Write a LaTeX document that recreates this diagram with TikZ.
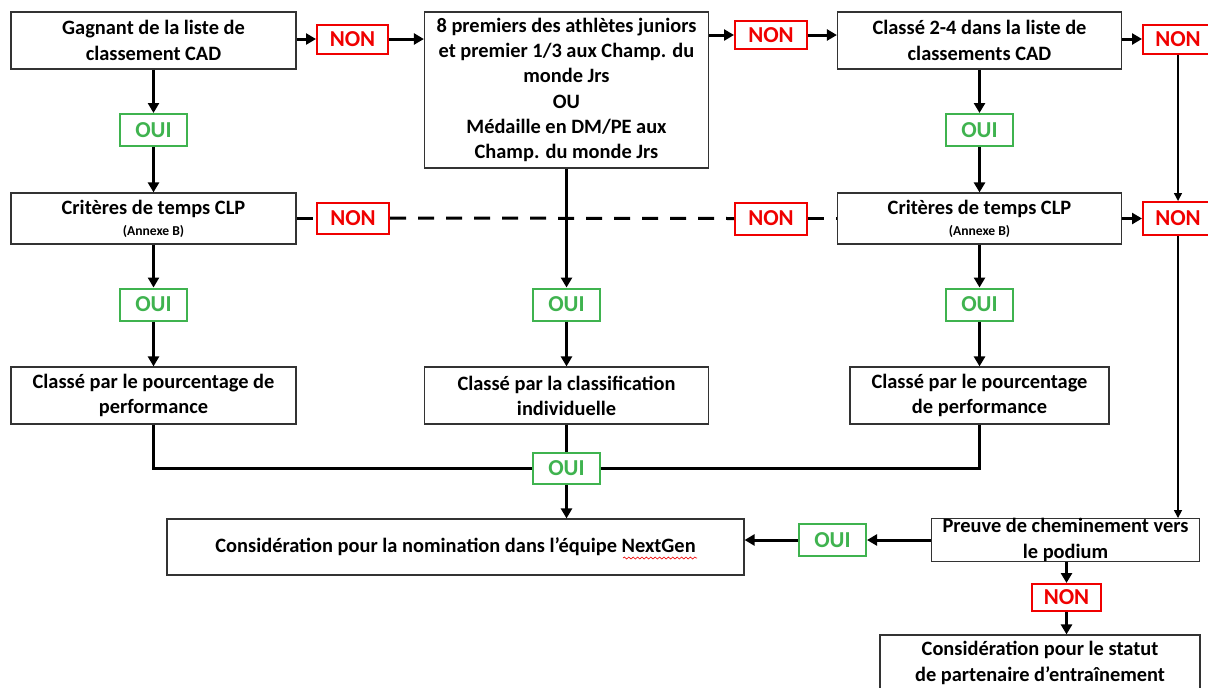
\documentclass[tikz,border=0pt]{standalone}
\usepackage{fontspec}
\setmainfont{Carlito}
\usetikzlibrary{arrows.meta,decorations.pathmorphing}
\definecolor{nonred}{HTML}{F00000}
\definecolor{ouigreen}{HTML}{3FB34F}
\newcommand{\mainfnt}{\fontsize{10.2}{12.6}\selectfont\bfseries}
\newcommand{\labfnt}{\fontsize{11.4}{12.6}\selectfont\bfseries}
\newcommand{\smallfnt}{\fontsize{6.8}{7.5}\selectfont\bfseries}
\tikzset{
  sz/.style 2 args={minimum width=#1*0.5pt, minimum height=#2*0.5pt},
  box/.style={draw=black!80, line width=0.6pt, fill=white, align=center, inner sep=0pt, font=\mainfnt},
  txt/.style={align=center, inner sep=0pt, font=\mainfnt},
  nonbox/.style={draw=nonred, line width=1pt, text=nonred, font=\labfnt, inner sep=0pt, fill=white},
  ouibox/.style={draw=ouigreen, line width=1pt, text=ouigreen, font=\labfnt, inner sep=0pt, fill=white},
  conn/.style={line width=1.5pt},
  arr/.style={line width=1.5pt, -{Triangle[length=5pt,width=5.5pt]}},
  thinarr/.style={line width=0.75pt, -{Triangle[length=4pt,width=4pt]}},
  dashconn/.style={line width=1.5pt, dash pattern=on 8pt off 6pt},
}
\begin{document}
\begin{tikzpicture}[x=0.5pt,y=-0.5pt]
\useasboundingbox (0,0) rectangle (1208,687);
% top row
\node[box, sz={285}{57}] (A) at (153.5,40.5) {Gagnant de la liste de\\classement CAD};
\node[nonbox, sz={71}{29}] (non1) at (352.5,39) {NON};
\node[box, sz={284}{156}] (B) at (566.5,90) {8 premiers des athlètes juniors\\et premier 1/3 aux Champ. du\\monde Jrs\\OU\\Médaille en DM/PE aux\\Champ. du monde Jrs};
\node[nonbox, sz={72}{28}] (non2) at (771,35) {NON};
\node[box, sz={284}{57}] (C) at (979.5,40.5) {Classé 2-4 dans la liste de\\classements CAD};
\node[nonbox, sz={70}{29}] (non3) at (1178,39) {NON};
% OUI row 1
\node[ouibox, sz={67}{32}] (oui1) at (153.5,130) {OUI};
\node[ouibox, sz={67}{32}] (oui2) at (979.5,130) {OUI};
% criteria row
\node[box, sz={285}{51}] (critL) at (153.5,218.5) {};
\node[txt] (critLt) at (153.5,209) {Critères de temps CLP};
\node[txt, font=\smallfnt] (critLa) at (153.5,231) {(Annexe B)};
\node[nonbox, sz={72}{31}] (non4) at (353,218) {NON};
\node[nonbox, sz={72}{32}] (non5) at (771,218.5) {NON};
\node[box, sz={284}{51}] (critR) at (979.5,218.5) {};
\node[txt] (critRt) at (979.5,209) {Critères de temps CLP};
\node[txt, font=\smallfnt] (critRa) at (979.5,231) {(Annexe B)};
\node[nonbox, sz={70}{33}] (non6) at (1178,218.5) {NON};
% OUI row 2
\node[ouibox, sz={67}{32}] (oui3) at (153.5,304.5) {OUI};
\node[ouibox, sz={67}{32}] (oui4) at (566.5,304.5) {OUI};
\node[ouibox, sz={67}{32}] (oui5) at (979.5,304.5) {OUI};
% classification row
\node[box, sz={285}{57}] (clL) at (153.5,395.5) {Classé par le pourcentage de\\performance};
\node[box, sz={284}{57}] (clM) at (566.5,395.5) {Classé par la classification\\individuelle};
\node[box, sz={259}{57}] (clR) at (979.5,395.5) {Classé par le pourcentage\\de performance};
% joining OUI
\node[ouibox, sz={67}{31}] (oui6) at (566.5,468.5) {OUI};
% bottom
\node[box, sz={577}{56}] (fin) at (455.5,547) {Considération pour la nomination dans l’équipe NextGen};
\node[ouibox, sz={67}{32}] (oui7) at (832.5,540) {OUI};
\node[box, sz={268}{42}] (prv) at (1065.5,540) {Preuve de cheminement vers\\le podium};
\node[nonbox, sz={69}{27}] (non7) at (1066.5,597.5) {NON};
\node[box, sz={320}{56}] (last) at (1040,663) {Considération pour le statut\\de partenaire d’entraînement};
\coordinate (wavyA) at (623,558);
\coordinate (wavyB) at (697,558);
\draw[nonred, line width=0.3pt, decorate, decoration={snake, amplitude=0.5pt, segment length=2.2pt}] (wavyA) -- (wavyB);
% connectors top row
\draw[arr] (A.east |- non1) -- (non1.west);
\draw[arr] (non1.east) -- (non1.east -| B.west);
\draw[arr] (B.east |- non2) -- (non2.west);
\draw[arr] (non2.east) -- (non2.east -| C.west);
\draw[arr] (C.east |- non3) -- (non3.west);
% left column
\draw[arr] (A) -- (oui1);
\draw[arr] (oui1) -- (critL);
\draw[arr] (critL) -- (oui3);
\draw[arr] (oui3) -- (clL);
% middle column
\draw[arr] (B.south -| oui4) -- (oui4.north);
\draw[arr] (oui4) -- (clM);
\draw[conn] (clM.south -| oui6) -- (oui6.north);
\draw[arr] (oui6.south) -- (oui6.south |- fin.north);
% right column
\draw[arr] (C.south -| oui2) -- (oui2.north);
\draw[arr] (oui2) -- (critR);
\draw[arr] (critR) -- (oui5);
\draw[arr] (oui5) -- (clR);
% joins
\draw[conn] (clL.south) |- (oui6.west);
\draw[conn] (clR.south) |- (oui6.east);
% dashed criteria links
\draw[dashconn] (critL.east |- non4) -- (non4.west);
\draw[dashconn] (non4.east) -- (non5.west);
\draw[dashconn] (non5.east) -- (non5.east -| critR.west);
\draw[arr] (critR.east |- non6) -- (non6.west);
% right thin line
\draw[thinarr] (non3.south) -- (non6.north);
\draw[thinarr] (non6.south) -- (non6.south |- prv.north);
% bottom
\draw[arr] (prv.west |- oui7) -- (oui7.east);
\draw[arr] (oui7.west) -- (oui7.west -| fin.east);
\draw[arr] (prv.south -| non7) -- (non7.north);
\draw[arr] (non7.south) -- (last.north -| non7);
\end{tikzpicture}
\end{document}
